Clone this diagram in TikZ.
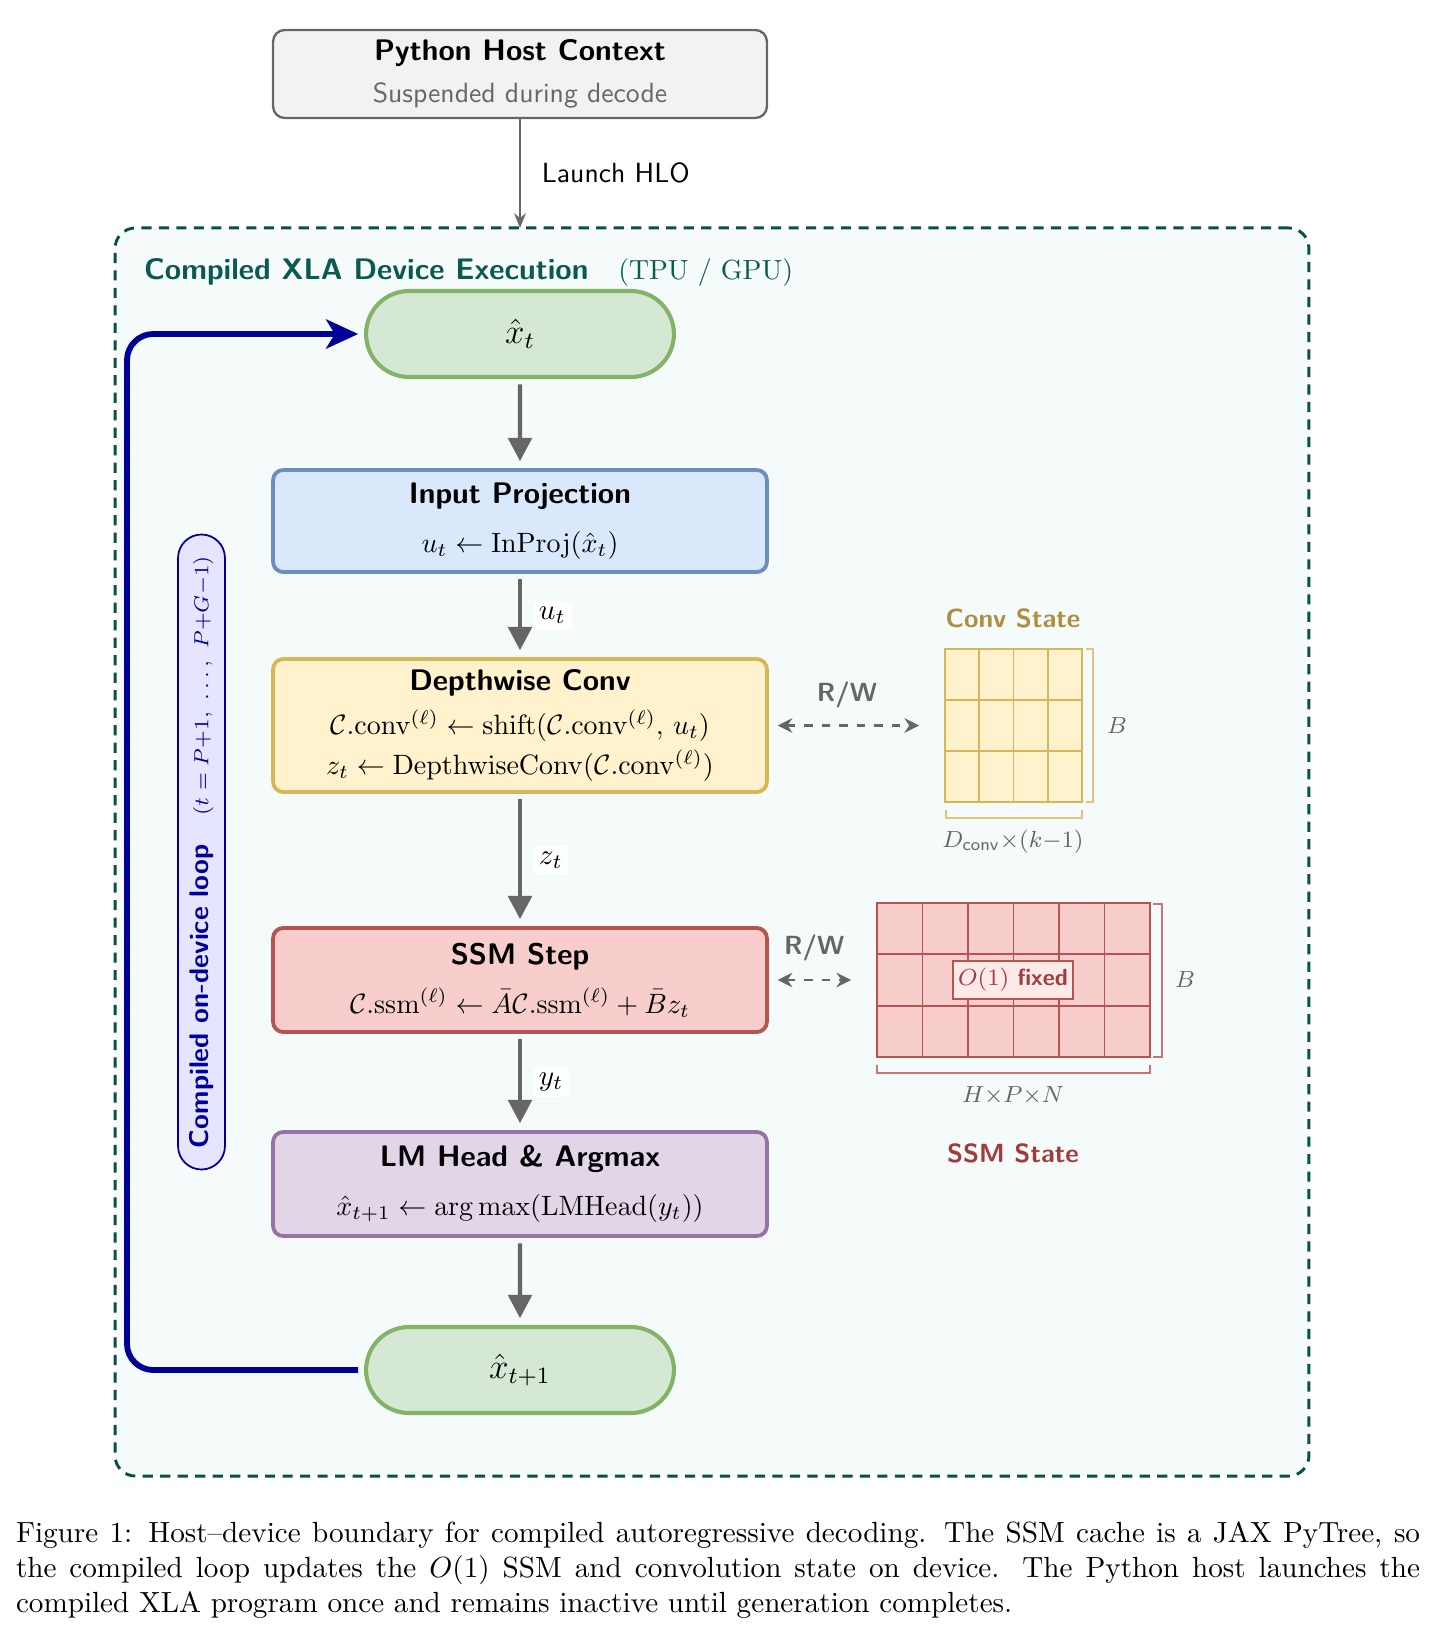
\documentclass[tikz,border=0pt]{standalone}
\usepackage{amsmath}
\usepackage{graphicx}
\usetikzlibrary{arrows.meta,calc,shapes.misc}
\definecolor{hostfill}{HTML}{F2F2F2}
\definecolor{hostdraw}{HTML}{666666}
\definecolor{devdraw}{HTML}{0B4F45}
\definecolor{devfill}{HTML}{F5FAFB}
\definecolor{devtext}{HTML}{0B5A50}
\definecolor{gfill}{HTML}{D5E8D4}
\definecolor{gdraw}{HTML}{82B366}
\definecolor{bfill}{HTML}{DAE8FC}
\definecolor{bdraw}{HTML}{6C8EBF}
\definecolor{yfill}{HTML}{FFF2CC}
\definecolor{ydraw}{HTML}{D6B656}
\definecolor{rfill}{HTML}{F8CECC}
\definecolor{rdraw}{HTML}{B85450}
\definecolor{pfill}{HTML}{E1D5E7}
\definecolor{pdraw}{HTML}{9673A6}
\definecolor{loopblue}{HTML}{000099}
\definecolor{loopfill}{HTML}{E5E5FF}
\definecolor{arrgray}{HTML}{666666}
\definecolor{convtext}{HTML}{AD8F3F}
\definecolor{ssmtext}{HTML}{A03C3C}
\newcommand{\ttlfont}{\fontsize{10.2}{12.2}\selectfont\sffamily\bfseries}
\newcommand{\mline}[1]{\scalebox{0.96}{#1}}
\newcommand{\subfont}{\fontsize{9.5}{11.4}\selectfont\sffamily}
\begin{document}
\begin{tikzpicture}[x=0.343pt,y=-0.343pt,
  every node/.style={inner sep=0pt, outer sep=0pt},
  proc/.style={draw, rounded corners=3.5pt, line width=1.3pt, minimum width=169.4pt, align=center},
  pill/.style={rounded rectangle, draw=gdraw, fill=gfill, line width=1.4pt, minimum width=105.6pt, minimum height=29.5pt, font=\large},
  flow/.style={draw=arrgray, line width=1.5pt, -{Triangle[length=8pt,width=8pt]}, shorten <=2.5pt, shorten >=3pt},
  rw/.style={draw=arrgray, line width=0.9pt, dashed, {Stealth[length=5pt,width=5pt]}-{Stealth[length=5pt,width=5pt]}, shorten <=3.7pt, shorten >=8.9pt},
  rwlbl/.style={text=arrgray, font=\sffamily\bfseries\small},
  edgelbl/.style={fill=white, rounded corners=1.5pt, inner sep=2pt, anchor=west, xshift=4.5pt},
  dimlbl/.style={text=arrgray, font=\footnotesize},
  celline/.style={line width=0.6pt},
  brk/.style={line width=0.6pt},
]
\useasboundingbox (0,0) rectangle (1435,1638);

% device region
\node[draw=devdraw, fill=devfill, dash pattern=on 3.5pt off 2.5pt, line width=1pt, rounded corners=7pt, minimum width=409.5pt, minimum height=428.1pt] (dev) at (712,852) {};
\node[anchor=west, text=devtext] (devtitle) at (144,272) {\ttlfont Compiled XLA Device Execution\quad{\fontsize{9.5}{11.4}\selectfont\rmfamily\mdseries (TPU / GPU)}};

% host
\node[draw=hostdraw, fill=hostfill, rounded corners=4pt, line width=0.8pt, minimum width=169.4pt, minimum height=30.2pt, align=center] (host) at (520,74) {{\ttlfont Python Host Context}\\[2.2pt]{\subfont\color{arrgray}Suspended during decode}};
\draw[draw=arrgray, line width=0.8pt, -{Stealth[length=5pt,width=4pt]}] (host.south) -- node[anchor=west, xshift=7.5pt, font=\subfont] (launch) {Launch HLO} (host.south |- dev.north);

% loop label
\node[rounded rectangle, draw=loopblue, fill=loopfill, line width=0.6pt, rotate=90, minimum width=217.8pt, minimum height=16.1pt, text=loopblue] (looplbl) at (201.5,852) {{\fontsize{9.25}{11}\selectfont\sffamily\bfseries Compiled on-device loop}\quad{\fontsize{7.5}{9}\selectfont$(t = P{+}1,\ \ldots,\ P{+}G{-}1)$}};

% pipeline
\node[pill] (xt) at (520,334) {$\hat{x}_t$};
\node[proc, draw=bdraw, fill=bfill, minimum height=35pt] (inp) at (520,521) {{\ttlfont Input Projection}\\[4.8pt]\mline{$u_t \leftarrow \mathrm{InProj}(\hat{x}_t)$}};
\node[proc, draw=ydraw, fill=yfill, minimum height=45.6pt] (conv) at (520,725.5) {{\ttlfont Depthwise Conv}\\[3.2pt]\mline{$\mathcal{C}.\mathrm{conv}^{(\ell)} \leftarrow \mathrm{shift}(\mathcal{C}.\mathrm{conv}^{(\ell)},\, u_t)$}\\[1.8pt]\mline{$z_t \leftarrow \mathrm{DepthwiseConv}(\mathcal{C}.\mathrm{conv}^{(\ell)})$}};
\node[proc, draw=rdraw, fill=rfill, minimum height=35.7pt] (ssm) at (520,980) {{\ttlfont SSM Step}\\[4.8pt]\mline{$\mathcal{C}.\mathrm{ssm}^{(\ell)} \leftarrow \bar{A}\mathcal{C}.\mathrm{ssm}^{(\ell)} + \bar{B} z_t$}};
\node[proc, draw=pdraw, fill=pfill, minimum height=35.7pt] (lm) at (520,1184) {{\ttlfont LM Head \& Argmax}\\[4.8pt]\mline{$\hat{x}_{t+1} \leftarrow \arg\max(\mathrm{LMHead}(y_t))$}};
\node[pill] (xt1) at (520,1370) {$\hat{x}_{t+1}$};

\draw[flow] (xt) -- (inp);
\draw[flow] (inp) -- node[edgelbl] (ulbl) {$u_t$} (conv);
\draw[flow] (conv) -- node[edgelbl] (zlbl) {$z_t$} (ssm);
\draw[flow] (ssm) -- node[edgelbl] (ylbl) {$y_t$} (lm);
\draw[flow] (lm) -- (xt1);

% loop back
\coordinate (lx) at (127,852);
\draw[draw=loopblue, line width=2pt, rounded corners=9pt, -{Stealth[length=11pt,width=10pt,inset=3pt]}, shorten <=2.7pt, shorten >=2.7pt] (xt1.west) -- (lx |- xt1.west) -- (lx |- xt.west) -- (xt.west);

% conv state
\node[draw=ydraw, fill=yfill, line width=0.9pt, minimum width=47pt, minimum height=52.5pt] (convgrid) at (1013.5,725.5) {};
\foreach \x in {979.25,1013.5,1047.75} \draw[ydraw, celline] (\x,649) -- (\x,802);
\foreach \y in {700,751} \draw[ydraw, celline] (945,\y) -- (1082,\y);
\draw[draw=ydraw!80, brk] (1086,649) -- (1093,649) -- (1093,802) -- (1086,802);
\draw[draw=ydraw!80, brk] (946,810) -- (946,818) -- (1082,818) -- (1082,810);
\node[text=convtext, font=\sffamily\bfseries\small] (convttl) at (1013,618) {Conv State};
\node[dimlbl] (convB) at (1117,726) {$B$};
\node[dimlbl] (convD) at (1013,842) {$D_{\textsf{conv}}{\times}(k{-}1)$};
\draw[rw] (conv.east) -- node[rwlbl, pos=0.45, yshift=10.6pt] (rw1) {R/W} (convgrid.west);

% ssm state
\node[draw=rdraw, fill=rfill, line width=0.9pt, minimum width=93.6pt, minimum height=52.8pt] (ssmgrid) at (1013.5,980) {};
\foreach \x in {922.5,968,1013.5,1059,1104.5} \draw[rdraw, celline] (\x,903) -- (\x,1057);
\foreach \y in {954.3,1005.7} \draw[rdraw, celline] (877,\y) -- (1150,\y);
\node[draw=rdraw, fill=rfill!45!white, line width=0.5pt, minimum width=41.2pt, minimum height=13pt, text=ssmtext, font=\footnotesize] (fixed) at (1013,980) {$O(1)$ {\sffamily\bfseries fixed}};
\draw[draw=rdraw!80, brk] (1153,904) -- (1162,904) -- (1162,1057) -- (1153,1057);
\draw[draw=rdraw!80, brk] (877,1065) -- (877,1073) -- (1150,1073) -- (1150,1065);
\node[dimlbl] (ssmB) at (1185,980) {$B$};
\node[dimlbl] (ssmH) at (1013,1096) {$H{\times}P{\times}N$};
\node[text=ssmtext, font=\sffamily\bfseries\small] (ssmttl) at (1013,1153) {SSM State};
\draw[rw] (ssm.east) -- node[rwlbl, pos=0.43, yshift=11pt] (rw2) {R/W} (ssmgrid.west);

% caption
\node[anchor=north west, text width=481.6pt, align=justify] (cap) at (16,1522) {Figure 1: Host--device boundary for compiled autoregressive decoding. The SSM cache is a JAX PyTree, so\linebreak the compiled loop updates the $O(1)$ SSM and convolution state on device. The Python host launches the\linebreak compiled XLA program once and remains inactive until generation completes.};
\end{tikzpicture}
\end{document}
